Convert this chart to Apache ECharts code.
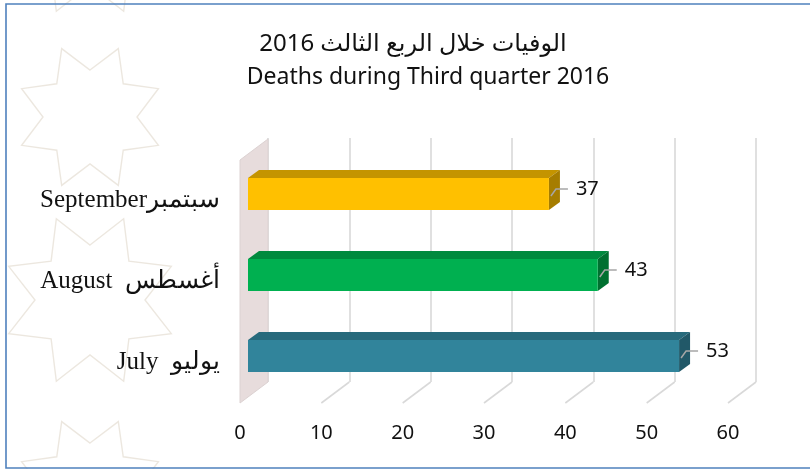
<!DOCTYPE html>
<html><head><meta charset="utf-8">
<script src="https://cdn.jsdelivr.net/npm/echarts@6/dist/echarts.min.js"></script>
<style>html,body{margin:0;padding:0;background:#fff}#c{width:810px;height:469px}</style>
</head><body><div id="c"></div>
<script>
// ---- data ----
const categories = ['July  يوليو', 'August  أغسطس', 'Septemberسبتمبر'];
const values = [53, 43, 37];
const xTicks = [0, 10, 20, 30, 40, 50, 60];
const titleAr = 'الوفيات خلال الربع الثالث 2016';
const titleEn = 'Deaths during Third quarter 2016';

// ---- styles ----
const faceColors = ['#31849B', '#00B050', '#FFC000'];
const topColors  = ['#276A7C', '#008A3E', '#C49400'];
const sideColors = ['#215868', '#007030', '#A67D00'];
const DX = 28, DY = -21;       // depth of the 3D box
const BX = 8, BY = -6.5;       // bar front offset
const BD = 11, BDY = -8;       // bar depth

function star(cx, cy, r, R) {
  const pts = [];
  for (let k = 0; k < 16; k++) {
    const a = -Math.PI / 2 + k * Math.PI / 8;
    const rr = k % 2 === 0 ? r : R;
    pts.push([cx + rr * Math.cos(a), cy + rr * Math.sin(a)]);
  }
  return pts;
}
const starStyle = { fill: 'none', stroke: 'rgba(205,192,170,0.38)', lineWidth: 1.4 };

const chart = echarts.init(document.getElementById('c'));
chart.setOption({
  backgroundColor: '#fff',
  animation: false,
  title: [
    { text: titleAr, left: 408, textAlign: 'center', top: 27,
      textStyle: { fontFamily: 'Noto Sans, DejaVu Sans', fontSize: 24, fontWeight: 'normal', color: '#111' } },
    { text: titleEn, left: 423, textAlign: 'center', top: 61,
      textStyle: { fontFamily: 'Noto Sans', fontSize: 23, fontWeight: 'normal', color: '#111' } }
  ],
  graphic: [
    { type: 'polygon', z: -10, shape: { points: star(90, 117, 47, 74) }, style: starStyle, silent: true },
    { type: 'polygon', z: -10, shape: { points: star(90, 300, 55, 88) }, style: starStyle, silent: true },
    { type: 'polygon', z: -10, shape: { points: star(90, 490, 47, 74) }, style: starStyle, silent: true },
    { type: 'polygon', z: -10, shape: { points: star(90, -70, 55, 88) }, style: starStyle, silent: true },
    { type: 'polyline', z: 100, shape: { points: [[810, 4], [6, 4], [6, 468], [810, 468]] },
      style: { stroke: '#4F81BD', lineWidth: 1.6, fill: 'none' }, silent: true }
  ],
  grid: [
    { left: 240, top: 160, width: 488, height: 243 },
    { left: 268, top: 138, width: 488, height: 244 }
  ],
  xAxis: [
    { type: 'value', gridIndex: 0, min: 0, max: 60, interval: 10,
      axisLine: { show: false }, axisTick: { show: false }, splitLine: { show: false },
      axisLabel: { margin: 20, fontFamily: 'Noto Sans', fontSize: 20, color: '#111' } },
    { type: 'value', gridIndex: 1, min: 0, max: 60, interval: 10,
      axisLine: { show: false }, axisTick: { show: false }, axisLabel: { show: false },
      splitLine: { show: true, lineStyle: { color: '#D9D9D9', width: 1.6 } } }
  ],
  yAxis: [
    { type: 'category', gridIndex: 0, data: categories,
      axisLine: { show: false }, axisTick: { show: false }, splitLine: { show: false },
      axisLabel: { margin: 20, fontFamily: 'Liberation Serif, DejaVu Serif', fontSize: 25, color: '#111' } },
    { type: 'category', gridIndex: 1, data: categories, show: false }
  ],
  series: [
    { // 3D frame: side wall + floor lines
      type: 'custom', xAxisIndex: 0, yAxisIndex: 0, z: 1, silent: true,
      data: xTicks.map(v => [v, 0]),
      renderItem: function (params, api) {
        const cs = params.coordSys;
        const x = api.coord([api.value(0), 0])[0];
        const bottom = cs.y + cs.height, top = cs.y;
        if (api.value(0) === 0) {
          return { type: 'polygon', shape: { points: [[x, top], [x + DX, top + DY], [x + DX, bottom + DY], [x, bottom]] },
                   style: { fill: '#E7DCDC', stroke: '#DCD2D2', lineWidth: 1 } };
        }
        return { type: 'line', shape: { x1: x, y1: bottom, x2: x + DX, y2: bottom + DY },
                 style: { stroke: '#D9D9D9', lineWidth: 1.6 } };
      }
    },
    { // 3D bars
      type: 'custom', xAxisIndex: 0, yAxisIndex: 0, z: 5,
      data: values.map((v, i) => [v, i]),
      renderItem: function (params, api) {
        const i = params.dataIndex;
        const p0 = api.coord([0, api.value(1)]);
        const p1 = api.coord([api.value(0), api.value(1)]);
        const band = api.size([0, 1])[1];
        const h = band * 0.395;
        const x0 = p0[0] + BX, x1 = p1[0] + BX;
        const yc = p0[1] + BY;
        const yt = yc - h / 2, yb = yc + h / 2;
        return { type: 'group', children: [
          { type: 'polygon', shape: { points: [[x0, yt], [x1, yt], [x1 + BD, yt + BDY], [x0 + BD, yt + BDY]] },
            style: { fill: topColors[i] } },
          { type: 'polygon', shape: { points: [[x1, yt], [x1 + BD, yt + BDY], [x1 + BD, yb + BDY], [x1, yb]] },
            style: { fill: sideColors[i] } },
          { type: 'rect', shape: { x: x0, y: yt, width: x1 - x0, height: h },
            style: { fill: faceColors[i] } },
          { type: 'polyline', shape: { points: [[x1 + 2, yc + 2], [x1 + 7, yc - 5], [x1 + 19, yc - 5]] },
            style: { stroke: '#A6A6A6', lineWidth: 1.5, fill: 'none' } },
          { type: 'text', style: { x: x1 + 27, y: yc - 5, text: String(api.value(0)), textVerticalAlign: 'middle',
              verticalAlign: 'middle', fontFamily: 'Noto Sans', fontSize: 20, fill: '#111' } }
        ] };
      }
    }
  ]
});
</script></body></html>
